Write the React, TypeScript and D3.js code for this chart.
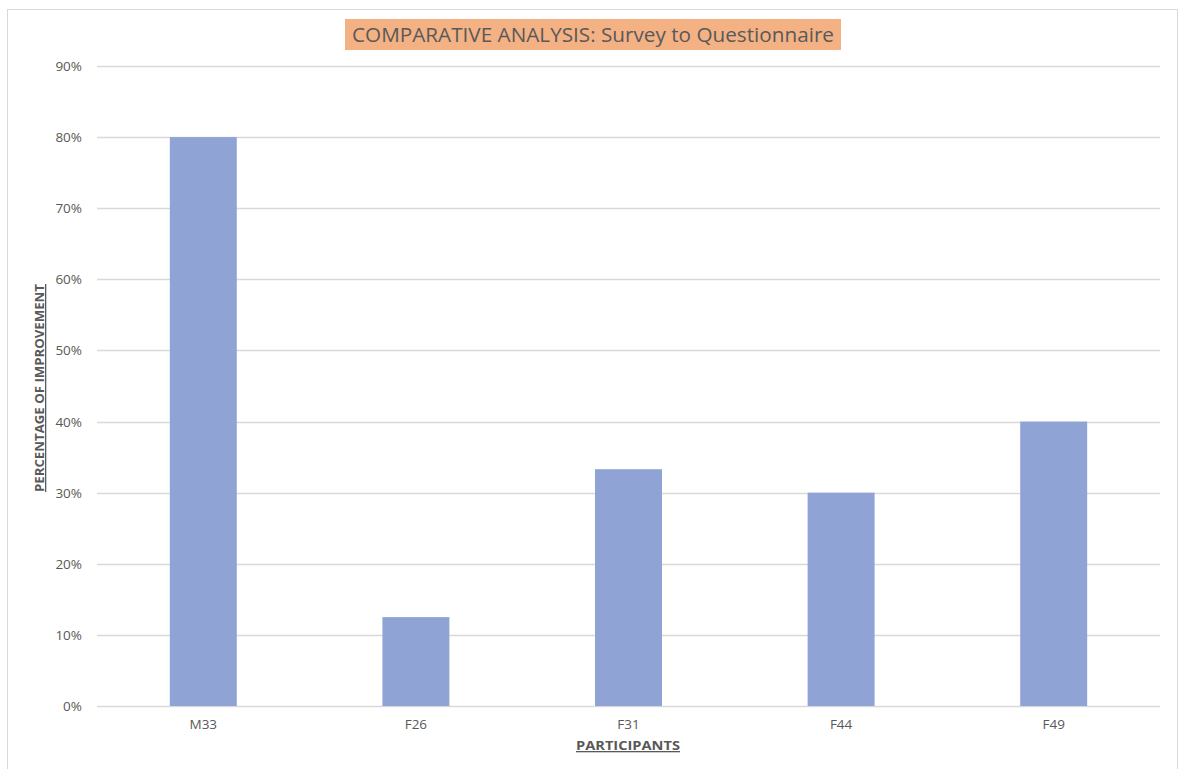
import React from "react";
import * as d3 from "d3";

// Participants and their improvement from survey to questionnaire
const participants = ["M33", "F26", "F31", "F44", "F49"];
const improvement = [0.8, 0.125, 0.333, 0.3, 0.4];
const yTicks = [0, 0.1, 0.2, 0.3, 0.4, 0.5, 0.6, 0.7, 0.8, 0.9];

const chartTitle = "COMPARATIVE ANALYSIS: Survey to Questionnaire";
const xTitle = "PARTICIPANTS";
const yTitle = "PERCENTAGE OF IMPROVEMENT";

const W = 1180;
const H = 769;
const plot = { left: 97, right: 1160, top: 66, bottom: 706 };
const FONT = "'Open Sans', 'Noto Sans', sans-serif";
const TEXT = "#595959";
const GRID = "#d9d9d9";
const BAR = "#8FA3D4";

export default function App() {
  const x = d3
    .scaleBand<string>()
    .domain(participants)
    .range([plot.left, plot.right])
    .paddingInner(0.685)
    .paddingOuter(0.3425);
  const y = d3.scaleLinear().domain([0, 0.9]).range([plot.bottom, plot.top]);
  const fmt = d3.format(".0%");

  const yTitleCenter = (plot.top + plot.bottom) / 2 + 2;

  return (
    <svg
      width={W}
      height={H}
      style={{ position: "absolute", left: 0, top: 0, display: "block", background: "#fff" }}
    >
      {/* chart frame */}
      <rect x={7.5} y={9.5} width={1170} height={780} fill="#fff" stroke={GRID} strokeWidth={1} />

      {/* gridlines */}
      {yTicks.map((t) => (
        <line
          key={t}
          x1={plot.left}
          x2={plot.right}
          y1={Math.round(y(t)) + 0.5}
          y2={Math.round(y(t)) + 0.5}
          stroke={GRID}
          strokeWidth={1.3}
        />
      ))}

      {/* y tick labels */}
      {yTicks.map((t) => (
        <text
          key={"l" + t}
          x={82}
          y={y(t) + 5}
          textAnchor="end"
          fontFamily={FONT}
          fontSize={13.5}
          fill={TEXT}
        >
          {fmt(t)}
        </text>
      ))}

      {/* bars */}
      {participants.map((p, i) => (
        <rect
          key={p}
          x={x(p)}
          y={y(improvement[i])}
          width={x.bandwidth()}
          height={y(0) - y(improvement[i])}
          fill={BAR}
        />
      ))}

      {/* x tick labels */}
      {participants.map((p) => (
        <text
          key={"x" + p}
          x={(x(p) as number) + x.bandwidth() / 2}
          y={729}
          textAnchor="middle"
          fontFamily={FONT}
          fontSize={13.5}
          fill={TEXT}
        >
          {p}
        </text>
      ))}

      {/* title */}
      <rect x={345} y={19} width={496} height={31} fill="#F4B183" />
      <text
        x={593}
        y={42}
        textAnchor="middle"
        fontFamily={FONT}
        fontSize={19.5}
        fill={TEXT}
        textLength={482}
        lengthAdjust="spacingAndGlyphs"
      >
        {chartTitle}
      </text>

      {/* x axis title */}
      <text
        x={628}
        y={750}
        textAnchor="middle"
        fontFamily={FONT}
        fontSize={13}
        fontWeight="bold"
        fill={TEXT}
        textDecoration="underline"
        textLength={104}
        lengthAdjust="spacingAndGlyphs"
      >
        {xTitle}
      </text>

      {/* y axis title */}
      <text
        transform={`translate(44, ${yTitleCenter}) rotate(-90)`}
        textAnchor="middle"
        fontFamily={FONT}
        fontSize={13}
        fontWeight="bold"
        fill={TEXT}
        textDecoration="underline"
        textLength={208}
        lengthAdjust="spacingAndGlyphs"
      >
        {yTitle}
      </text>
    </svg>
  );
}
